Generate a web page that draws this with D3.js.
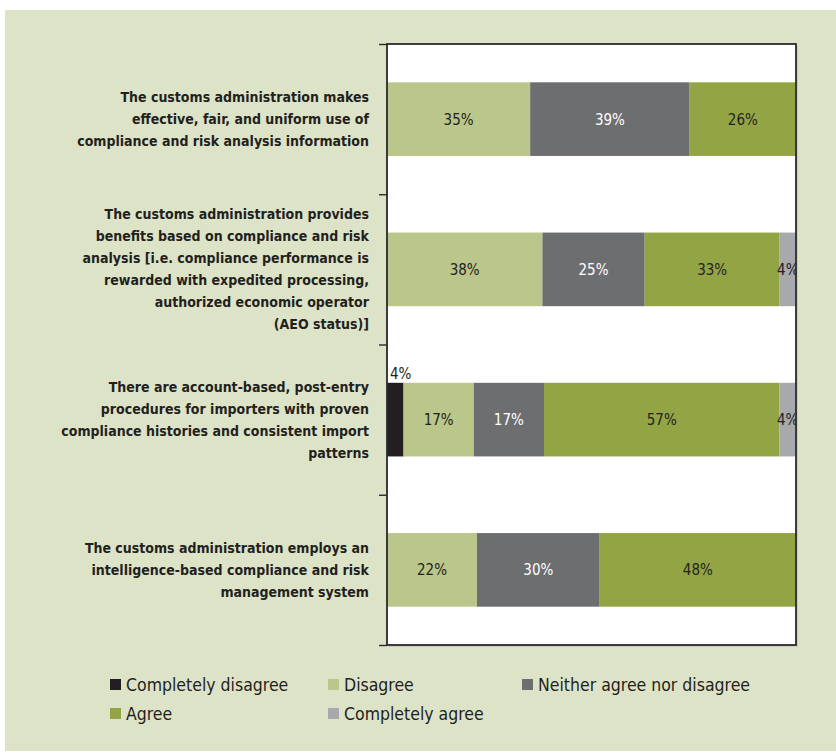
<!DOCTYPE html>
<html>
<head>
<meta charset="utf-8">
<script src="https://cdn.jsdelivr.net/npm/d3@7/dist/d3.min.js"></script>
<style>
  html, body { margin: 0; padding: 0; background: #ffffff; }
  svg { display: block; }
  text { font-family: "DejaVu Sans Condensed", "Liberation Sans Narrow", "Arial Narrow", sans-serif; }
</style>
</head>
<body>
<svg id="chart" width="836" height="755"></svg>
<script>
// Survey statements (each line of the wrapped label)
const categories = [
  ["The customs administration makes", "effective, fair, and uniform use of", "compliance and risk analysis information"],
  ["The customs administration provides", "benefits based on compliance and risk", "analysis [i.e. compliance performance is", "rewarded with expedited processing,", "authorized economic operator", "(AEO status)]"],
  ["There are account-based, post-entry", "procedures for importers with proven", "compliance histories and consistent import", "patterns"],
  ["The customs administration employs an", "intelligence-based compliance and risk", "management system"]
];

// Response categories
const seriesNames = ["Completely disagree", "Disagree", "Neither agree nor disagree", "Agree", "Completely agree"];
const seriesColors = ["#231f20", "#bac68a", "#6d6e70", "#93a445", "#a7a9ac"];

// Share of responses (%) per statement, in series order
const completelyDisagree = [0, 0, 4, 0];
const disagree           = [35, 38, 17, 22];
const neither            = [39, 25, 17, 30];
const agree              = [26, 33, 57, 48];
const completelyAgree    = [0, 4, 4, 0];

const seriesValues = [completelyDisagree, disagree, neither, agree, completelyAgree];

const rows = categories.map((c, i) => {
  const r = { key: i };
  seriesNames.forEach((s, j) => { r[s] = seriesValues[j][i]; });
  return r;
});

const svg = d3.select("#chart");
const W = 836, H = 755;
const plot = { left: 387, top: 44, right: 796, bottom: 645 };

// panel background
svg.append("rect").attr("x", 5).attr("y", 10).attr("width", W - 5).attr("height", H - 14)
  .attr("fill", "#dde3c7");

const x = d3.scaleLinear().domain([0, 1]).range([plot.left, plot.right]);
const y = d3.scaleBand().domain(d3.range(categories.length)).range([plot.top, plot.bottom]).padding(0);
const barH = y.bandwidth() * 0.49;

// plot area with a soft drop shadow
svg.append("rect").attr("x", plot.left + 2).attr("y", plot.top + 2)
  .attr("width", plot.right - plot.left).attr("height", plot.bottom - plot.top)
  .attr("fill", "#c9cdb9");
svg.append("rect").attr("x", plot.left).attr("y", plot.top)
  .attr("width", plot.right - plot.left).attr("height", plot.bottom - plot.top)
  .attr("fill", "#ffffff");

svg.append("clipPath").attr("id", "plotClip").append("rect")
  .attr("x", plot.left).attr("y", plot.top)
  .attr("width", plot.right - plot.left).attr("height", plot.bottom - plot.top);

const stack = d3.stack().keys(seriesNames).offset(d3.stackOffsetExpand);
const stacked = stack(rows);

const g = svg.append("g").attr("clip-path", "url(#plotClip)");

stacked.forEach((layer, j) => {
  g.selectAll(null).data(layer).enter().append("rect")
    .attr("x", d => x(d[0]))
    .attr("width", d => x(d[1]) - x(d[0]))
    .attr("y", (d, i) => y(i) + (y.bandwidth() - barH) / 2)
    .attr("height", barH)
    .attr("fill", seriesColors[j]);
});

// value labels
stacked.forEach((layer, j) => {
  const name = seriesNames[j];
  layer.forEach((d, i) => {
    const v = seriesValues[j][i];
    if (!v) return;
    const cy = y(i) + y.bandwidth() / 2;
    if (name === "Completely disagree") {
      svg.append("text")
        .attr("x", x(d[0]) + 3)
        .attr("y", y(i) + (y.bandwidth() - barH) / 2 - 4)
        .attr("font-size", 15).attr("fill", "#231f20")
        .text(v + "%");
    } else {
      g.append("text")
        .attr("x", (x(d[0]) + x(d[1])) / 2)
        .attr("y", cy)
        .attr("dy", "0.36em")
        .attr("text-anchor", "middle")
        .attr("font-size", 15)
        .attr("fill", name === "Neither agree nor disagree" ? "#ffffff" : "#231f20")
        .text(v + "%");
    }
  });
});

// frame
svg.append("rect").attr("x", plot.left).attr("y", plot.top)
  .attr("width", plot.right - plot.left).attr("height", plot.bottom - plot.top)
  .attr("fill", "none").attr("stroke", "#2b2b2b").attr("stroke-width", 1.8);

// category axis with ticks at band boundaries
const yb = d3.scaleLinear().domain([0, categories.length]).range([plot.top, plot.bottom]);
svg.append("g").attr("transform", `translate(${plot.left},0)`)
  .call(d3.axisLeft(yb).tickValues(d3.range(categories.length + 1)).tickSize(8).tickFormat(""))
  .call(a => a.select(".domain").remove())
  .call(a => a.selectAll(".tick line").attr("stroke", "#2b2b2b").attr("stroke-width", 1.4));

// category labels
const lineH = 22;
categories.forEach((lines, i) => {
  const cy = y(i) + y.bandwidth() / 2;
  const t = svg.append("text")
    .attr("text-anchor", "end")
    .attr("font-size", 14).attr("font-weight", "bold").attr("fill", "#231f20");
  lines.forEach((ln, k) => {
    t.append("tspan").attr("x", 369)
      .attr("y", cy + (k - (lines.length - 1) / 2) * lineH)
      .attr("dy", "0.36em")
      .text(ln);
  });
});

// legend
const legendPos = [[110, 685], [328, 685], [522, 685], [110, 714], [328, 714]];
seriesNames.forEach((s, j) => {
  const [lx, ly] = legendPos[j];
  svg.append("rect").attr("x", lx).attr("y", ly - 6).attr("width", 11).attr("height", 11)
    .attr("fill", seriesColors[j]);
  svg.append("text").attr("x", lx + 16).attr("y", ly).attr("dy", "0.36em")
    .attr("font-size", 17.5).attr("fill", "#231f20").text(s);
});
</script>
</body>
</html>
